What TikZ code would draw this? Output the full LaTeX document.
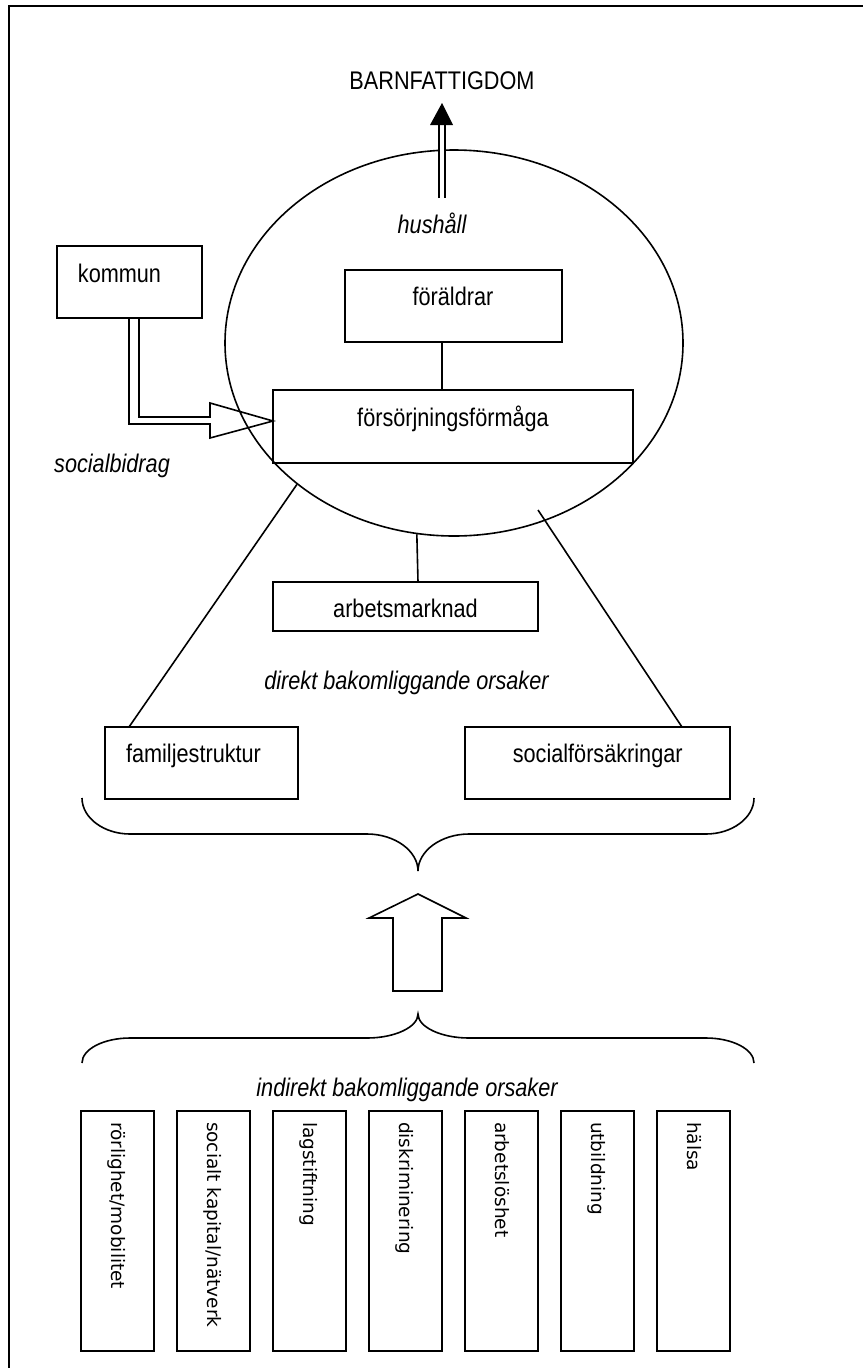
\documentclass[tikz,border=0pt]{standalone}
\usepackage{fontspec}
\setmainfont{Liberation Sans}[FakeStretch=0.85]
\newfontfamily\vfont{DejaVu Sans}
\usetikzlibrary{shapes.geometric,calc}
\begin{document}
\begin{tikzpicture}[x=1pt,y=-1pt,
  lw/.style={line width=1.6pt},
  box/.style={draw, lw, inner sep=0pt, outer sep=0pt},
  lbl/.style={inner sep=0pt, outer sep=0pt, anchor=base, font=\fontsize{25.5}{30}\selectfont},
  ilbl/.style={lbl, font=\fontsize{25.5}{30}\selectfont\itshape},
  vbox/.style={box, minimum width=73pt, minimum height=240pt},
  vlbl/.style={inner sep=0pt, outer sep=0pt, rotate=-90, anchor=base west, font=\vfont\fontsize{18.5}{22}\selectfont},
]
\useasboundingbox (0,0) rectangle (863,1368);
% frame
\draw[line width=1.8pt] (9,1368) -- (9,6) -- (863,6);

% household ellipse
\node[draw, lw, ellipse, minimum width=458pt, minimum height=386pt, inner sep=0pt] (hush) at (454,343) {};

% boxes
\node[box, minimum width=145pt, minimum height=72pt] (kommun) at (129.5,282) {};
\node[box, minimum width=217pt, minimum height=72pt] (foral) at (453.5,306) {};
\node[box, minimum width=360pt, minimum height=73pt] (forsorj) at (453,426.5) {};
\node[box, minimum width=265pt, minimum height=49pt] (arb) at (405.5,606.5) {};
\node[box, minimum width=193pt, minimum height=72pt] (familj) at (201.5,763) {};
\node[box, minimum width=265pt, minimum height=72pt] (socialf) at (597.5,763) {};

% texts
\node[lbl] (barn) at (442,89) {BARNFATTIGDOM};
\node[ilbl] (hushlbl) at (432,233) {hushåll};
\node[lbl] (tkommun) at (119.5,282) {kommun};
\node[ilbl] (tsocb) at (112,472) {socialbidrag};
\node[lbl] (tforal) at (453,305) {föräldrar};
\node[lbl] (tforsorj) at (453,426) {försörjningsförmåga};
\node[lbl] (tarb) at (405.5,617) {arbetsmarknad};
\node[ilbl] (tdirekt) at (406.5,689) {direkt bakomliggande orsaker};
\node[lbl] (tfamilj) at (193.5,762) {familjestruktur};
\node[lbl] (tsocialf) at (597.7,762) {socialförsäkringar};
\node[ilbl] (tindirekt) at (407,1096) {indirekt bakomliggande orsaker};

% top double arrow
\coordinate (hushtop) at (442,198);
\draw[line width=1.5pt, double, double distance=4.5pt] (hushtop) -- ([yshift=-35pt]barn.base);
\fill ([yshift=-14pt]barn.base) -- ++(-12,22) -- ++(23,0) -- cycle;

% kommun block arrow
\draw[lw, line join=miter] ([xshift=-0.5pt]kommun.south) -- ++(0,106) -- ++(81,0) -- ++(0,14)
  -- ([yshift=5.5pt]forsorj.west) -- ++(-63,-18) -- ++(0,14) -- ++(-71,0) -- ([xshift=9.5pt]kommun.south);

% connectors
\draw[lw] ([xshift=-11.5pt]foral.south) -- ([xshift=-11pt]forsorj.north);
\draw[lw] (hush.259.3) -- ([xshift=12.5pt]arb.north);
\draw[lw] (hush.222.7) -- ([xshift=-72.5pt]familj.north);
\coordinate (rs) at (538,510);
\draw[lw] (rs) -- ([xshift=84.5pt]socialf.north);

% upper brace
\draw[lw] (82,798) .. controls (82,818) and (104,834) .. (130,834) -- (367,834)
  .. controls (395,834) and (418,851) .. (418,871)
  .. controls (418,851) and (441,834) .. (469,834) -- (706,834)
  .. controls (732,834) and (754,818) .. (754,798);

% up block arrow
\draw[lw, line join=miter] (393,991) -- (393,918) -- (369,918) -- (418,894) -- (466,918) -- (442,918) -- (442,991) -- cycle;

% lower brace
\draw[lw] (82,1063) .. controls (82,1049) and (104,1038) .. (130,1038) -- (367,1038)
  .. controls (395,1038) and (418,1027) .. (418,1014)
  .. controls (418,1027) and (441,1038) .. (469,1038) -- (706,1038)
  .. controls (732,1038) and (754,1049) .. (754,1063);

% indirect causes
\foreach \i/\t in {0/{rörlighet/mobilitet}, 1/{socialt kapital/nätverk}, 2/lagstiftning, 3/diskriminering, 4/arbetslöshet, 5/utbildning, 6/hälsa}{
  \node[vbox] (v\i) at ({117.5+96*\i},1231) {};
  \node[vlbl] (vt\i) at ({111.5+96*\i},1122) {\t};
}
\end{tikzpicture}
\end{document}
